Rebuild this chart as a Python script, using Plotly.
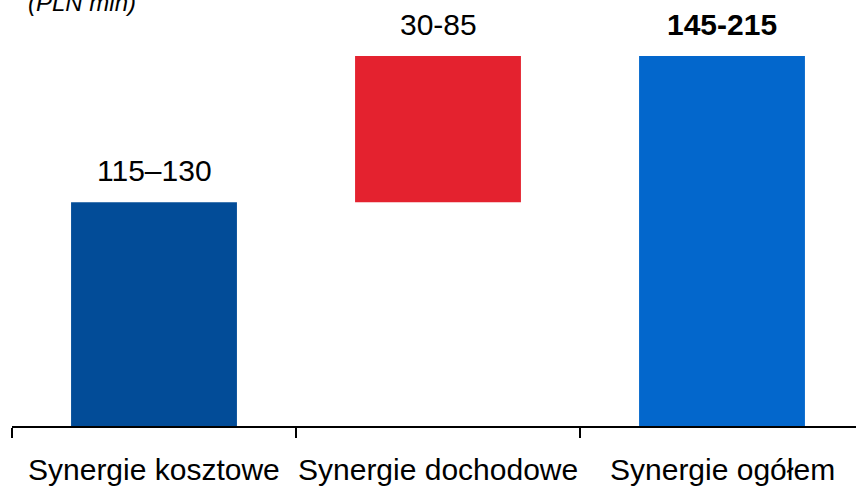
import plotly.graph_objects as go

categories = ["Synergie kosztowe", "Synergie dochodowe", "Synergie ogółem"]
bar_values = [130, 85, 215]
bar_bases = [0, 130, 0]
label_text = ["115–130", "30-85", "145-215"]
label_bold = [False, False, True]
colors = ["#024C98", "#E4222F", "#0367CC"]
unit_text = "(PLN mln)"

x_pos = list(range(len(categories)))
tops = [b + v for b, v in zip(bar_bases, bar_values)]

fig = go.Figure()
fig.add_trace(go.Bar(
    x=x_pos, y=bar_values, base=bar_bases,
    marker=dict(color=colors, line=dict(width=0)),
    width=0.584, hoverinfo="skip",
))

annotations = []
for xi, t, txt, b in zip(x_pos, tops, label_text, label_bold):
    annotations.append(dict(
        x=xi, y=t, xref="x", yref="y", text=f"<b>{txt}</b>" if b else txt,
        showarrow=False, yanchor="bottom", yshift=13,
        font=dict(family="Liberation Sans, Arial", size=30, color="black"),
    ))
for xi, c in zip(x_pos, categories):
    annotations.append(dict(
        x=xi, y=0, xref="x", yref="paper", text=c, showarrow=False,
        yanchor="top", yshift=-25,
        font=dict(family="Liberation Sans, Arial", size=30, color="black"),
    ))
annotations.append(dict(
    x=0, y=1, xref="paper", yref="paper", text=f"<i>{unit_text}</i>",
    showarrow=False, xanchor="left", yanchor="bottom", xshift=14, yshift=-10,
    font=dict(family="Liberation Sans, Arial", size=24, color="black"),
))

fig.update_layout(
    width=856, height=486,
    margin=dict(l=12, r=0, t=8, b=60),
    paper_bgcolor="white", plot_bgcolor="white",
    showlegend=False,
    annotations=annotations,
    xaxis=dict(
        range=[-0.5, -0.5 + 844 / 284], showgrid=False, zeroline=False,
        showline=True, linecolor="black", linewidth=2,
        tickvals=[-0.5, 0.5, 1.5], ticktext=["", "", ""],
        ticks="outside", ticklen=10, tickwidth=2, tickcolor="black",
    ),
    yaxis=dict(range=[0, 242.9], visible=False),
)

fig.write_html("out.html", config={"displayModeBar": False},
               post_script="document.body.style.margin='0';")
